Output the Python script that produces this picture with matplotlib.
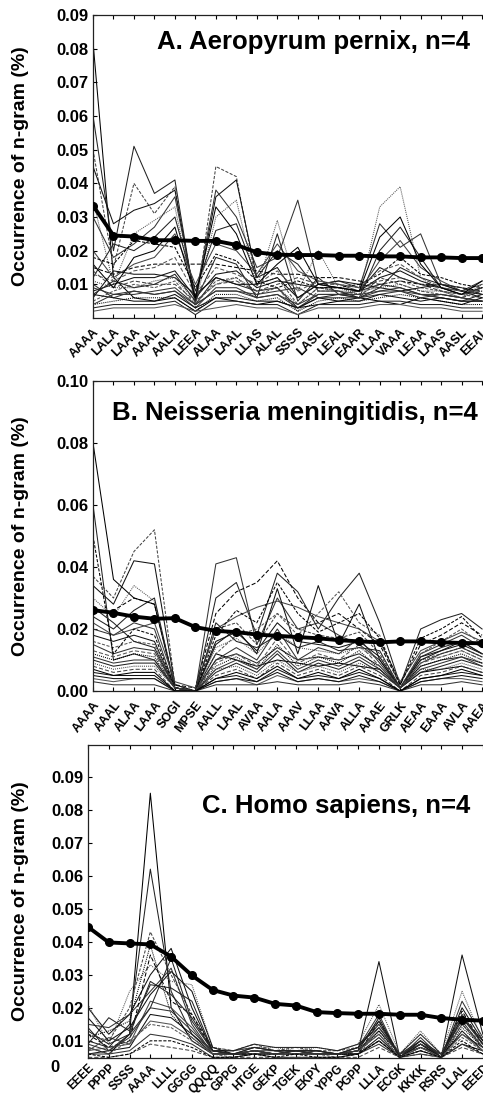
import matplotlib
matplotlib.use("Agg")
import matplotlib.pyplot as plt
import numpy as np

# ---------------- data ----------------
labels_a = ["AAAA", "LALA", "LAAA", "AAAL", "AALA", "LEEA", "ALAA", "LAAL", "LLAS", "ALAL",
            "SSSS", "LASL", "LEAL", "EAAR", "LLAA", "VAAA", "LEAA", "LAAS", "AASL", "EEAL"]
mean_a = [0.0334, 0.0245, 0.0242, 0.0231, 0.0231, 0.0229, 0.0229, 0.0217, 0.0195, 0.0188,
          0.0187, 0.0187, 0.0185, 0.0185, 0.0183, 0.0183, 0.0180, 0.0180, 0.0178, 0.0178]
lines_a = [
    [0.082, 0.012, 0.006, 0.005, 0.006, 0.002, 0.006, 0.005, 0.004, 0.005, 0.003, 0.004, 0.005, 0.006, 0.005, 0.004, 0.006, 0.005, 0.004, 0.006],
    [0.060, 0.020, 0.051, 0.037, 0.041, 0.004, 0.012, 0.010, 0.008, 0.009, 0.003, 0.006, 0.007, 0.008, 0.010, 0.009, 0.007, 0.006, 0.005, 0.007],
    [0.050, 0.015, 0.040, 0.031, 0.039, 0.003, 0.045, 0.042, 0.010, 0.012, 0.004, 0.009, 0.008, 0.006, 0.012, 0.010, 0.008, 0.007, 0.006, 0.008],
    [0.045, 0.028, 0.032, 0.034, 0.038, 0.005, 0.036, 0.041, 0.012, 0.015, 0.006, 0.010, 0.009, 0.008, 0.015, 0.012, 0.010, 0.009, 0.007, 0.009],
    [0.035, 0.010, 0.025, 0.029, 0.033, 0.004, 0.030, 0.035, 0.009, 0.029, 0.008, 0.020, 0.009, 0.007, 0.033, 0.039, 0.012, 0.008, 0.006, 0.010],
    [0.030, 0.018, 0.022, 0.027, 0.036, 0.006, 0.038, 0.030, 0.015, 0.018, 0.035, 0.010, 0.011, 0.009, 0.028, 0.021, 0.025, 0.010, 0.008, 0.011],
    [0.015, 0.013, 0.015, 0.016, 0.016, 0.016, 0.016, 0.015, 0.014, 0.013, 0.013, 0.012, 0.012, 0.011, 0.010, 0.011, 0.010, 0.010, 0.009, 0.008],
    [0.012, 0.022, 0.020, 0.024, 0.030, 0.008, 0.026, 0.028, 0.012, 0.020, 0.016, 0.008, 0.008, 0.006, 0.020, 0.027, 0.018, 0.009, 0.007, 0.009],
    [0.020, 0.012, 0.016, 0.018, 0.025, 0.010, 0.022, 0.020, 0.013, 0.022, 0.014, 0.011, 0.010, 0.008, 0.017, 0.023, 0.015, 0.011, 0.008, 0.010],
    [0.008, 0.010, 0.012, 0.012, 0.014, 0.006, 0.013, 0.014, 0.009, 0.011, 0.010, 0.009, 0.009, 0.008, 0.012, 0.014, 0.011, 0.009, 0.008, 0.007],
    [0.005, 0.008, 0.010, 0.009, 0.011, 0.004, 0.011, 0.012, 0.007, 0.009, 0.002, 0.008, 0.008, 0.007, 0.010, 0.011, 0.009, 0.008, 0.007, 0.006],
    [0.010, 0.006, 0.008, 0.007, 0.008, 0.003, 0.009, 0.009, 0.006, 0.007, 0.003, 0.007, 0.007, 0.006, 0.008, 0.009, 0.007, 0.006, 0.005, 0.005],
    [0.004, 0.005, 0.006, 0.006, 0.006, 0.002, 0.007, 0.007, 0.005, 0.006, 0.002, 0.005, 0.006, 0.005, 0.006, 0.007, 0.006, 0.005, 0.004, 0.004],
    [0.003, 0.004, 0.004, 0.004, 0.005, 0.001, 0.005, 0.005, 0.004, 0.004, 0.001, 0.004, 0.004, 0.004, 0.005, 0.005, 0.004, 0.004, 0.003, 0.003],
    [0.014, 0.009, 0.011, 0.010, 0.010, 0.005, 0.010, 0.011, 0.008, 0.010, 0.012, 0.010, 0.010, 0.009, 0.011, 0.012, 0.010, 0.008, 0.007, 0.008],
    [0.006, 0.014, 0.013, 0.013, 0.012, 0.007, 0.012, 0.010, 0.010, 0.012, 0.006, 0.010, 0.011, 0.010, 0.009, 0.008, 0.009, 0.010, 0.008, 0.006],
    [0.002, 0.003, 0.003, 0.003, 0.004, 0.002, 0.003, 0.004, 0.003, 0.003, 0.001, 0.003, 0.003, 0.003, 0.004, 0.004, 0.003, 0.003, 0.002, 0.002],
    [0.009, 0.007, 0.007, 0.008, 0.009, 0.004, 0.008, 0.008, 0.007, 0.008, 0.009, 0.006, 0.006, 0.006, 0.007, 0.008, 0.006, 0.007, 0.006, 0.005],
    [0.018, 0.016, 0.023, 0.022, 0.021, 0.009, 0.019, 0.017, 0.011, 0.009, 0.011, 0.009, 0.009, 0.010, 0.013, 0.018, 0.013, 0.012, 0.010, 0.009],
    [0.007, 0.011, 0.009, 0.010, 0.013, 0.005, 0.018, 0.016, 0.006, 0.025, 0.005, 0.012, 0.007, 0.006, 0.009, 0.015, 0.012, 0.010, 0.009, 0.007],
    [0.011, 0.009, 0.009, 0.011, 0.012, 0.005, 0.010, 0.012, 0.008, 0.009, 0.004, 0.009, 0.008, 0.008, 0.009, 0.010, 0.008, 0.008, 0.006, 0.009],
    [0.007, 0.006, 0.005, 0.005, 0.007, 0.003, 0.006, 0.006, 0.005, 0.005, 0.003, 0.006, 0.005, 0.005, 0.007, 0.006, 0.005, 0.006, 0.005, 0.005],
    [0.013, 0.011, 0.014, 0.015, 0.018, 0.007, 0.015, 0.013, 0.010, 0.014, 0.008, 0.011, 0.010, 0.009, 0.014, 0.016, 0.012, 0.009, 0.008, 0.008],
    [0.004, 0.007, 0.008, 0.007, 0.008, 0.004, 0.008, 0.008, 0.006, 0.007, 0.004, 0.007, 0.007, 0.007, 0.008, 0.008, 0.007, 0.007, 0.006, 0.005],
    [0.016, 0.009, 0.018, 0.020, 0.027, 0.006, 0.033, 0.025, 0.010, 0.016, 0.021, 0.010, 0.009, 0.008, 0.024, 0.030, 0.016, 0.009, 0.007, 0.011],
]

labels_b = ["AAAA", "AAAL", "ALAA", "LAAA", "SOGI", "MPSE", "AALL", "LAAL", "AVAA", "AALA",
            "AAAV", "LLAA", "AAVA", "ALLA", "AAAE", "GRLK", "AEAA", "EAAA", "AVLA", "AAEA"]
mean_b = [0.0261, 0.0252, 0.0240, 0.0233, 0.0235, 0.0206, 0.0194, 0.0190, 0.0182, 0.0178,
          0.0174, 0.0170, 0.0164, 0.0160, 0.0157, 0.0160, 0.0160, 0.0157, 0.0155, 0.0154]
lines_b = [
    [0.080, 0.036, 0.030, 0.028, 0.001, 0.000, 0.012, 0.010, 0.008, 0.010, 0.009, 0.008, 0.009, 0.008, 0.007, 0.001, 0.006, 0.007, 0.008, 0.006],
    [0.060, 0.010, 0.012, 0.010, 0.001, 0.000, 0.010, 0.012, 0.009, 0.014, 0.010, 0.011, 0.010, 0.012, 0.008, 0.001, 0.008, 0.010, 0.011, 0.009],
    [0.037, 0.030, 0.045, 0.052, 0.002, 0.000, 0.020, 0.022, 0.015, 0.025, 0.020, 0.018, 0.017, 0.019, 0.012, 0.001, 0.010, 0.012, 0.014, 0.011],
    [0.034, 0.028, 0.042, 0.041, 0.002, 0.000, 0.016, 0.019, 0.013, 0.022, 0.016, 0.015, 0.014, 0.016, 0.011, 0.001, 0.011, 0.013, 0.015, 0.012],
    [0.030, 0.024, 0.034, 0.029, 0.001, 0.000, 0.014, 0.017, 0.012, 0.019, 0.014, 0.013, 0.012, 0.014, 0.010, 0.001, 0.010, 0.011, 0.013, 0.010],
    [0.020, 0.018, 0.022, 0.020, 0.001, 0.000, 0.041, 0.043, 0.015, 0.030, 0.020, 0.022, 0.018, 0.015, 0.010, 0.001, 0.012, 0.015, 0.018, 0.014],
    [0.025, 0.026, 0.030, 0.028, 0.002, 0.001, 0.025, 0.032, 0.035, 0.042, 0.030, 0.022, 0.025, 0.020, 0.015, 0.002, 0.015, 0.018, 0.022, 0.018],
    [0.024, 0.020, 0.026, 0.030, 0.001, 0.000, 0.030, 0.035, 0.018, 0.038, 0.032, 0.020, 0.030, 0.038, 0.022, 0.002, 0.020, 0.023, 0.025, 0.020],
    [0.022, 0.018, 0.020, 0.022, 0.003, 0.001, 0.020, 0.024, 0.027, 0.029, 0.027, 0.024, 0.022, 0.020, 0.016, 0.003, 0.013, 0.016, 0.019, 0.016],
    [0.018, 0.016, 0.018, 0.016, 0.001, 0.000, 0.015, 0.020, 0.012, 0.033, 0.012, 0.034, 0.015, 0.028, 0.010, 0.001, 0.010, 0.013, 0.016, 0.012],
    [0.016, 0.014, 0.016, 0.015, 0.001, 0.000, 0.012, 0.018, 0.020, 0.025, 0.018, 0.025, 0.032, 0.022, 0.018, 0.001, 0.012, 0.016, 0.020, 0.015],
    [0.015, 0.012, 0.014, 0.013, 0.001, 0.000, 0.010, 0.014, 0.010, 0.020, 0.010, 0.014, 0.012, 0.017, 0.009, 0.001, 0.009, 0.012, 0.014, 0.011],
    [0.012, 0.010, 0.012, 0.011, 0.001, 0.000, 0.008, 0.011, 0.007, 0.015, 0.008, 0.011, 0.009, 0.013, 0.007, 0.001, 0.008, 0.010, 0.012, 0.009],
    [0.010, 0.008, 0.009, 0.009, 0.001, 0.000, 0.006, 0.009, 0.006, 0.012, 0.006, 0.009, 0.007, 0.010, 0.006, 0.001, 0.006, 0.008, 0.010, 0.008],
    [0.008, 0.006, 0.007, 0.007, 0.000, 0.000, 0.005, 0.007, 0.004, 0.009, 0.005, 0.007, 0.005, 0.008, 0.005, 0.000, 0.005, 0.006, 0.008, 0.006],
    [0.006, 0.005, 0.005, 0.005, 0.000, 0.000, 0.004, 0.005, 0.003, 0.007, 0.004, 0.005, 0.004, 0.006, 0.004, 0.000, 0.004, 0.005, 0.006, 0.005],
    [0.004, 0.003, 0.004, 0.004, 0.000, 0.000, 0.003, 0.004, 0.002, 0.005, 0.003, 0.004, 0.003, 0.004, 0.003, 0.000, 0.003, 0.004, 0.004, 0.003],
    [0.003, 0.002, 0.002, 0.002, 0.000, 0.000, 0.002, 0.002, 0.002, 0.003, 0.002, 0.002, 0.002, 0.003, 0.002, 0.000, 0.002, 0.002, 0.003, 0.002],
    [0.050, 0.012, 0.020, 0.018, 0.001, 0.000, 0.018, 0.026, 0.022, 0.035, 0.025, 0.019, 0.022, 0.025, 0.017, 0.002, 0.017, 0.020, 0.024, 0.017],
    [0.027, 0.022, 0.016, 0.014, 0.001, 0.000, 0.022, 0.016, 0.014, 0.018, 0.014, 0.016, 0.013, 0.014, 0.013, 0.001, 0.011, 0.014, 0.016, 0.012],
    [0.009, 0.007, 0.008, 0.008, 0.001, 0.000, 0.007, 0.008, 0.005, 0.010, 0.006, 0.008, 0.006, 0.009, 0.006, 0.001, 0.007, 0.007, 0.009, 0.007],
    [0.005, 0.004, 0.004, 0.004, 0.000, 0.000, 0.003, 0.004, 0.003, 0.006, 0.003, 0.004, 0.003, 0.005, 0.003, 0.000, 0.003, 0.004, 0.005, 0.004],
    [0.013, 0.011, 0.013, 0.012, 0.001, 0.000, 0.009, 0.012, 0.008, 0.017, 0.009, 0.012, 0.010, 0.015, 0.008, 0.001, 0.009, 0.011, 0.013, 0.010],
    [0.011, 0.009, 0.010, 0.010, 0.001, 0.000, 0.007, 0.010, 0.007, 0.013, 0.007, 0.010, 0.008, 0.011, 0.007, 0.001, 0.007, 0.009, 0.011, 0.008],
    [0.007, 0.005, 0.006, 0.006, 0.000, 0.000, 0.004, 0.006, 0.004, 0.008, 0.004, 0.006, 0.004, 0.007, 0.004, 0.000, 0.004, 0.005, 0.007, 0.005],
]

labels_c = ["EEEE", "PPPP", "SSSS", "AAAA", "LLLL", "GGGG", "QQQQ", "GPPG", "HTGE", "GEKP",
            "TGEK", "EKPY", "YPPG", "PGPP", "LLLA", "ECGK", "KKKK", "RSRS", "LLAL", "EEED"]
mean_c = [0.0445, 0.0398, 0.0395, 0.0392, 0.0355, 0.0298, 0.0254, 0.0237, 0.0231, 0.0212,
          0.0207, 0.0187, 0.0184, 0.0182, 0.0182, 0.0179, 0.0179, 0.0169, 0.0164, 0.0161]
lines_c = [
    [0.008, 0.006, 0.012, 0.085, 0.020, 0.010, 0.006, 0.006, 0.006, 0.006, 0.006, 0.006, 0.006, 0.006, 0.010, 0.005, 0.007, 0.005, 0.009, 0.007],
    [0.010, 0.008, 0.015, 0.062, 0.025, 0.012, 0.007, 0.007, 0.008, 0.007, 0.007, 0.007, 0.006, 0.007, 0.013, 0.006, 0.008, 0.006, 0.012, 0.008],
    [0.012, 0.010, 0.020, 0.043, 0.030, 0.018, 0.008, 0.007, 0.009, 0.007, 0.008, 0.007, 0.007, 0.008, 0.016, 0.006, 0.009, 0.006, 0.015, 0.009],
    [0.020, 0.012, 0.018, 0.030, 0.038, 0.020, 0.007, 0.006, 0.007, 0.006, 0.007, 0.006, 0.006, 0.007, 0.034, 0.005, 0.010, 0.005, 0.036, 0.012],
    [0.021, 0.009, 0.025, 0.033, 0.028, 0.027, 0.008, 0.007, 0.008, 0.008, 0.007, 0.008, 0.007, 0.009, 0.021, 0.006, 0.013, 0.006, 0.025, 0.010],
    [0.015, 0.014, 0.018, 0.025, 0.032, 0.015, 0.006, 0.006, 0.007, 0.007, 0.006, 0.007, 0.006, 0.008, 0.018, 0.005, 0.011, 0.005, 0.022, 0.011],
    [0.012, 0.008, 0.010, 0.036, 0.022, 0.018, 0.007, 0.006, 0.006, 0.006, 0.006, 0.006, 0.006, 0.006, 0.016, 0.005, 0.009, 0.005, 0.019, 0.009],
    [0.009, 0.017, 0.013, 0.027, 0.026, 0.022, 0.007, 0.007, 0.009, 0.008, 0.008, 0.008, 0.007, 0.009, 0.014, 0.006, 0.012, 0.006, 0.017, 0.010],
    [0.007, 0.011, 0.009, 0.022, 0.020, 0.014, 0.006, 0.006, 0.007, 0.006, 0.007, 0.006, 0.006, 0.007, 0.012, 0.005, 0.009, 0.005, 0.015, 0.008],
    [0.006, 0.007, 0.008, 0.018, 0.017, 0.012, 0.006, 0.006, 0.006, 0.006, 0.006, 0.006, 0.006, 0.006, 0.011, 0.005, 0.008, 0.005, 0.013, 0.007],
    [0.008, 0.006, 0.010, 0.015, 0.014, 0.010, 0.006, 0.005, 0.006, 0.006, 0.006, 0.006, 0.005, 0.006, 0.010, 0.005, 0.007, 0.005, 0.011, 0.007],
    [0.006, 0.006, 0.007, 0.012, 0.011, 0.009, 0.005, 0.005, 0.006, 0.005, 0.005, 0.005, 0.005, 0.006, 0.009, 0.005, 0.006, 0.005, 0.009, 0.006],
    [0.011, 0.013, 0.016, 0.039, 0.018, 0.011, 0.006, 0.006, 0.007, 0.006, 0.006, 0.006, 0.006, 0.006, 0.013, 0.005, 0.008, 0.005, 0.014, 0.008],
    [0.014, 0.007, 0.012, 0.020, 0.035, 0.016, 0.007, 0.006, 0.008, 0.007, 0.007, 0.007, 0.006, 0.008, 0.015, 0.006, 0.010, 0.006, 0.018, 0.009],
    [0.005, 0.005, 0.006, 0.009, 0.008, 0.007, 0.005, 0.005, 0.005, 0.005, 0.005, 0.005, 0.005, 0.005, 0.008, 0.005, 0.006, 0.005, 0.008, 0.006],
    [0.017, 0.010, 0.014, 0.024, 0.031, 0.025, 0.008, 0.006, 0.007, 0.006, 0.007, 0.006, 0.006, 0.007, 0.017, 0.005, 0.009, 0.005, 0.020, 0.010],
    [0.007, 0.008, 0.009, 0.016, 0.015, 0.011, 0.006, 0.006, 0.007, 0.006, 0.006, 0.006, 0.006, 0.007, 0.012, 0.005, 0.008, 0.005, 0.012, 0.007],
    [0.009, 0.007, 0.011, 0.020, 0.019, 0.013, 0.007, 0.006, 0.007, 0.006, 0.007, 0.006, 0.006, 0.007, 0.014, 0.006, 0.009, 0.006, 0.016, 0.008],
    [0.006, 0.005, 0.006, 0.010, 0.010, 0.008, 0.005, 0.005, 0.006, 0.005, 0.006, 0.005, 0.005, 0.006, 0.010, 0.005, 0.007, 0.005, 0.010, 0.006],
    [0.013, 0.009, 0.012, 0.028, 0.024, 0.017, 0.007, 0.006, 0.008, 0.007, 0.007, 0.007, 0.006, 0.008, 0.016, 0.005, 0.010, 0.005, 0.017, 0.009],
]

titles = ["A. Aeropyrum pernix, n=4", "B. Neisseria meningitidis, n=4", "C. Homo sapiens, n=4"]
ylabel = "Occurrence of n-gram (%)"

# ---------------- figure ----------------
W, H = 483, 1101
fig = plt.figure(figsize=(W / 100, H / 100), dpi=100)

def px_axes(left, top, right, bottom):
    return fig.add_axes([left / W, 1 - bottom / H, (right - left) / W, (bottom - top) / H])

panels = [
    dict(box=(93, 15, 487, 318), labels=labels_a, mean=mean_a, lines=lines_a,
         ylim=(0, 0.09), yticks=[0.01, 0.02, 0.03, 0.04, 0.05, 0.06, 0.07, 0.08, 0.09],
         xmax=19.24, rot=45, title=(470, 42), xfs=9, xpad=6),
    dict(box=(93, 381, 487, 691), labels=labels_b, mean=mean_b, lines=lines_b,
         ylim=(0, 0.10), yticks=[0.0, 0.02, 0.04, 0.06, 0.08, 0.10],
         xmax=19.24, rot=52, title=(478, 413), xfs=9, xpad=6),
    dict(box=(88, 745, 487, 1058), labels=labels_c, mean=mean_c, lines=lines_c,
         ylim=(0.0048, 0.0996), yticks=[0.01, 0.02, 0.03, 0.04, 0.05, 0.06, 0.07, 0.08, 0.09],
         xmax=19.2, rot=45, title=(470, 806), xfs=8.5, xpad=3),
]

styles = ["-", "-", (0, (3, 1.5)), "-", (0, (1, 1)), "-", (0, (4, 2)), "-"]
greys = ["#000000", "#222222", "#444444", "#111111", "#555555", "#333333"]

for k, p in enumerate(panels):
    ax = px_axes(*p["box"])
    x = np.arange(len(p["labels"]))
    for i, ln in enumerate(p["lines"]):
        ax.plot(x, ln, color=greys[i % len(greys)], lw=0.75,
                linestyle=styles[i % len(styles)], zorder=2)
    ax.plot(x, p["mean"], color="black", lw=2.8, marker="o", ms=5.5, zorder=5)
    ax.set_xlim(0, p["xmax"])
    ax.set_ylim(*p["ylim"])
    ax.set_yticks(p["yticks"])
    ax.set_yticklabels(["{:.2f}".format(v) for v in p["yticks"]],
                       fontsize=12, fontweight="bold", family="Liberation Sans")
    ax.set_xticks(x)
    ax.set_xticklabels(p["labels"], rotation=p["rot"], ha="right",
                       rotation_mode="anchor", fontsize=p["xfs"], fontweight="bold",
                       family="Liberation Sans")
    ax.tick_params(axis="both", direction="in", length=3, width=0.8, top=True, right=True,
                   pad=3)
    ax.tick_params(axis="x", pad=p["xpad"])
    for s in ax.spines.values():
        s.set_linewidth(0.9)
        s.set_color("#222222")
    ax.set_ylabel(ylabel, fontsize=14, fontweight="bold", family="Liberation Sans")
    ax.yaxis.set_label_coords(-(p["box"][0] - 29) / (p["box"][2] - p["box"][0]), 0.5)
    tx, ty = p["title"]
    fig.text(tx / W, 1 - ty / H, titles[k], ha="right", va="center",
             fontsize=18.5, fontweight="bold", family="Liberation Sans")

fig.text(55 / W, 1 - 1068 / H, "0", ha="center", va="center",
         fontsize=12, fontweight="bold", family="Liberation Sans")

fig.savefig("out.png", dpi=100)
